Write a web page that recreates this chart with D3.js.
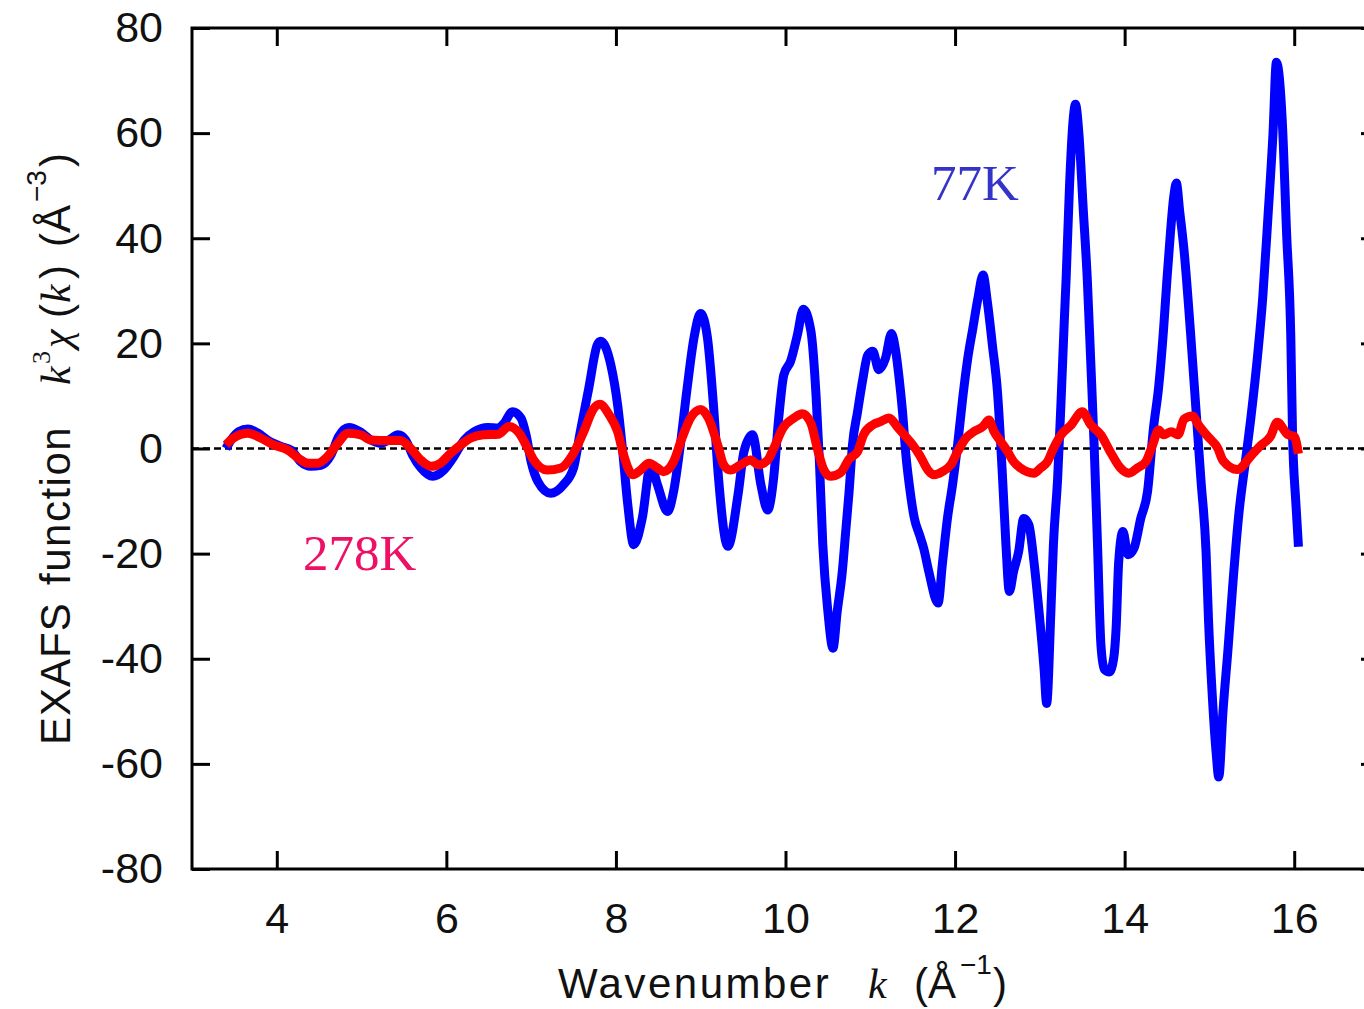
<!DOCTYPE html>
<html>
<head>
<meta charset="utf-8">
<script src="https://cdn.jsdelivr.net/npm/d3@7"></script>
<style>
  html, body { margin: 0; padding: 0; background: #fff; overflow: hidden; }
  svg { display: block; }
</style>
</head>
<body>
<svg id="chart" width="1364" height="1009"></svg>
<script>
// EXAFS k^3 chi(k) spectra at two temperatures

const xTicks = [4, 6, 8, 10, 12, 14, 16];
const yTicks = [-80, -60, -40, -20, 0, 20, 40, 60, 80];

// 77 K spectrum
const k77 = [
  3.40, 3.46, 3.55, 3.66, 3.78, 3.89, 4.05, 4.17, 4.28, 4.40, 4.52, 4.64, 4.73, 4.85, 4.99,
  5.11, 5.23, 5.32, 5.43, 5.52, 5.60, 5.70, 5.84, 5.97, 6.09, 6.21, 6.33, 6.49, 6.61, 6.68,
  6.78, 6.88, 6.94, 7.00, 7.08, 7.23, 7.38, 7.50, 7.58, 7.68, 7.78, 7.82, 7.94, 8.02, 8.08,
  8.14, 8.21, 8.31, 8.41, 8.49, 8.61, 8.68, 8.76, 8.84, 8.92, 9.00, 9.08, 9.15, 9.21, 9.32,
  9.44, 9.51, 9.61, 9.71, 9.79, 9.86, 9.92, 9.98, 10.06, 10.14, 10.21, 10.30, 10.36, 10.40, 10.44,
  10.50, 10.56, 10.61, 10.67, 10.71, 10.75, 10.79, 10.85, 10.91, 10.97, 11.03, 11.10, 11.18, 11.25, 11.30,
  11.34, 11.38, 11.42, 11.46, 11.52, 11.58, 11.63, 11.69, 11.80, 11.85, 11.91, 11.97, 12.03, 12.09, 12.15,
  12.21, 12.27, 12.33, 12.38, 12.44, 12.50, 12.56, 12.60, 12.64, 12.69, 12.75, 12.81, 12.87, 12.93, 12.99,
  13.05, 13.08, 13.13, 13.16, 13.21, 13.25, 13.29, 13.31, 13.35, 13.39, 13.42, 13.46, 13.51, 13.56, 13.60,
  13.64, 13.68, 13.72, 13.76, 13.82, 13.87, 13.90, 13.93, 13.98, 14.04, 14.11, 14.19, 14.27, 14.34, 14.40,
  14.46, 14.50, 14.54, 14.58, 14.61, 14.65, 14.70, 14.78, 14.84, 14.90, 14.96, 14.99, 15.03, 15.08, 15.11,
  15.16, 15.22, 15.28, 15.35, 15.42, 15.49, 15.57, 15.63, 15.69, 15.75, 15.79, 15.86, 15.91, 15.96, 15.98,
  16.02, 16.05
];
const chi77 = [
  0.0, 1.6, 3.2, 3.7, 2.9, 1.6, 0.4, -0.3, -2.5, -3.4, -3.2, -1.2, 2.3, 4.0, 3.1,
  1.6, 1.0, 1.6, 2.6, 1.6, -1.2, -3.7, -5.3, -4.1, -1.5, 1.6, 3.2, 4.0, 3.9, 4.8,
  7.0, 5.8, 2.6, -2.5, -6.3, -8.5, -6.9, -3.7, 3.2, 11.5, 19.7, 20.4, 15.9, 8.3, -0.6,
  -10.7, -18.3, -13.3, -3.1, -6.9, -12.0, -8.2, 0.7, 11.5, 21.0, 25.7, 21.0, 8.3, -5.6, -18.6,
  -8.8, -0.6, 2.6, -6.9, -11.7, -5.6, 5.8, 14.0, 16.6, 21.6, 26.5, 22.3, 10.2, -2.5, -18.3,
  -31.0, -38.0, -31.0, -23.4, -15.8, -8.2, 0.7, 7.0, 13.0, 17.8, 18.5, 15.0, 17.2, 21.9, 18.5,
  13.4, 7.0, -1.2, -6.9, -13.3, -16.4, -19.0, -23.4, -29.4, -22.0, -13.3, -6.9, 0.7, 9.6, 17.2,
  22.9, 28.6, 33.0, 28.0, 19.7, 10.8, -5.6, -18.3, -27.2, -23.4, -19.6, -13.3, -14.5, -21.5, -31.0,
  -42.0, -48.5, -31.0, -18.3, -5.6, 9.0, 25.0, 32.4, 50.0, 62.0, 65.5, 60.0, 46.0, 32.0, 16.6,
  0.7, -18.3, -37.3, -42.0, -42.5, -40.0, -34.0, -21.5, -15.8, -20.2, -19.0, -13.3, -8.2, 3.9, 11.5,
  22.9, 32.4, 41.0, 48.0, 50.5, 45.0, 37.8, 21.4, 7.7, -6.0, -19.6, -33.0, -46.0, -58.0, -62.5,
  -50.0, -38.0, -25.0, -12.0, -3.0, 6.0, 18.0, 29.0, 44.0, 60.0, 73.5, 62.0, 41.0, 21.0, 3.0,
  -10.5, -18.7
];

// 278 K spectrum
const k278 = [
  3.40, 3.49, 3.66, 3.81, 3.96, 4.13, 4.25, 4.37, 4.48, 4.60, 4.72, 4.84, 4.99, 5.11, 5.31,
  5.46, 5.58, 5.70, 5.82, 5.93, 6.05, 6.17, 6.29, 6.44, 6.61, 6.74, 6.86, 6.96, 7.03, 7.19,
  7.35, 7.50, 7.62, 7.73, 7.81, 7.92, 8.02, 8.09, 8.20, 8.29, 8.39, 8.49, 8.56, 8.68, 8.78,
  8.88, 9.00, 9.09, 9.20, 9.27, 9.35, 9.47, 9.59, 9.68, 9.79, 9.86, 9.97, 10.10, 10.20, 10.30,
  10.38, 10.45, 10.53, 10.65, 10.75, 10.85, 10.92, 11.03, 11.12, 11.22, 11.32, 11.40, 11.50, 11.58, 11.68,
  11.75, 11.85, 11.95, 12.03, 12.13, 12.22, 12.33, 12.40, 12.46, 12.54, 12.62, 12.69, 12.77, 12.93, 13.01,
  13.09, 13.16, 13.25, 13.37, 13.50, 13.60, 13.72, 13.83, 13.95, 14.05, 14.15, 14.25, 14.33, 14.40, 14.46,
  14.55, 14.63, 14.70, 14.80, 14.87, 14.98, 15.10, 15.16, 15.33, 15.49, 15.60, 15.72, 15.80, 15.92, 16.00,
  16.05
];
const chi278 = [
  0.7, 2.0, 2.9, 2.0, 0.7, -0.3, -1.8, -2.8, -2.8, -1.5, 1.0, 2.9, 2.6, 1.6, 1.5,
  1.5, 0.0, -2.2, -3.4, -2.8, -0.9, 0.7, 2.0, 2.6, 2.7, 4.2, 2.9, 0.0, -2.2, -4.1,
  -3.7, -0.9, 3.2, 7.4, 8.4, 6.4, 3.2, -1.2, -5.0, -4.1, -2.8, -3.7, -4.4, -2.5, 2.0,
  5.8, 7.4, 5.8, 0.7, -3.1, -4.1, -3.1, -2.2, -3.1, -2.2, 0.0, 3.9, 5.8, 6.6, 4.8,
  -0.3, -4.0, -5.3, -4.6, -2.0, -0.6, 2.6, 4.5, 5.1, 5.8, 4.1, 2.6, 0.7, -1.2, -4.1,
  -5.0, -4.4, -3.1, -0.6, 2.0, 3.2, 4.2, 5.4, 3.2, 1.3, -0.6, -2.5, -3.7, -4.7, -3.7,
  -2.5, 0.0, 2.6, 4.5, 7.0, 4.5, 2.6, -0.6, -3.7, -4.7, -3.7, -2.5, 0.7, 3.5, 2.6,
  3.2, 2.6, 5.6, 6.2, 4.5, 2.3, 0.0, -2.3, -4.0, -1.4, 0.5, 2.3, 5.0, 2.7, 2.3,
  -1.0
];

const svg = d3.select("#chart");
const plotLeft = 192, plotTop = 28, plotBottom = 869, plotRight = 1379;

const x = d3.scaleLinear().domain([3, 17]).range([plotLeft, plotRight]);
const y = d3.scaleLinear().domain([-80, 80]).range([plotBottom, plotTop]);

const sans = "'Liberation Sans', Arial, sans-serif";
const serif = "'Liberation Serif', 'DejaVu Serif', serif";
const fmt = d => String(d);

// zero reference line
svg.append("line")
  .attr("x1", x(3)).attr("x2", x(17))
  .attr("y1", y(0)).attr("y2", y(0))
  .attr("stroke", "#000").attr("stroke-width", 2.5)
  .attr("stroke-dasharray", "7,4");

// curves
const line = d3.line()
  .x(d => x(d[0])).y(d => y(d[1]))
  .curve(d3.curveMonotoneX);

svg.append("path")
  .datum(k77.map((k, i) => [k, chi77[i]]))
  .attr("d", line)
  .attr("fill", "none").attr("stroke", "#0000ff")
  .attr("stroke-width", 9).attr("stroke-linejoin", "round");

svg.append("path")
  .datum(k278.map((k, i) => [k, chi278[i]]))
  .attr("d", line)
  .attr("fill", "none").attr("stroke", "#ff0000")
  .attr("stroke-width", 9).attr("stroke-linejoin", "round");

// axes with inward ticks
function styleAxis(g) {
  g.select(".domain").remove();
  g.selectAll(".tick line").attr("stroke", "#000").attr("stroke-width", 3);
  g.selectAll(".tick text")
    .attr("fill", "#111")
    .style("font-family", sans)
    .style("font-size", "43px");
}

svg.append("g")
  .attr("transform", `translate(${plotLeft},0)`)
  .call(d3.axisLeft(y).tickValues(yTicks).tickFormat(fmt).tickSize(-18).tickSizeOuter(0).tickPadding(29))
  .call(styleAxis);

svg.append("g")
  .attr("transform", `translate(${plotRight},0)`)
  .call(d3.axisRight(y).tickValues(yTicks).tickFormat(() => "").tickSize(-18).tickSizeOuter(0))
  .call(styleAxis);

svg.append("g")
  .attr("transform", `translate(0,${plotBottom})`)
  .call(d3.axisBottom(x).tickValues(xTicks).tickFormat(fmt).tickSize(-18).tickSizeOuter(0).tickPadding(33))
  .call(styleAxis);

svg.append("g")
  .attr("transform", `translate(0,${plotTop})`)
  .call(d3.axisTop(x).tickValues(xTicks).tickFormat(() => "").tickSize(-18).tickSizeOuter(0))
  .call(styleAxis);

// frame
svg.append("rect")
  .attr("x", plotLeft).attr("y", plotTop)
  .attr("width", plotRight - plotLeft).attr("height", plotBottom - plotTop)
  .attr("fill", "none").attr("stroke", "#000").attr("stroke-width", 3);

// x axis title
const xt = svg.append("text")
  .attr("y", 998)
  .attr("fill", "#111")
  .style("font-family", sans)
  .style("font-size", "42px");
xt.append("tspan").attr("x", 558).style("letter-spacing", "2.5px").text("Wavenumber");
xt.append("tspan").attr("x", 868).style("font-family", serif).style("font-style", "italic").text("k");
xt.append("tspan").attr("x", 914).text("(Å");
xt.append("tspan").attr("x", 960).attr("y", 974).style("font-size", "28px").text("−1");
xt.append("tspan").attr("x", 993).attr("y", 998).text(")");

// y axis title (rotated)
const yt = svg.append("g")
  .attr("transform", "translate(70,745) rotate(-90)")
  .append("text")
  .attr("fill", "#111")
  .style("font-family", sans)
  .style("font-size", "42px");
yt.append("tspan").attr("x", 0).attr("y", 0).style("letter-spacing", "1px").text("EXAFS");
yt.append("tspan").attr("x", 160).attr("y", 0).style("letter-spacing", "1.5px").text("function");
yt.append("tspan").attr("x", 360).attr("y", 0).style("font-family", serif).style("font-style", "italic").text("k");
yt.append("tspan").attr("x", 381).attr("y", -20).style("font-family", serif).style("font-size", "26px").text("3");
yt.append("tspan").attr("x", 397).attr("y", 0).style("font-family", serif).style("font-style", "italic").text("χ");
yt.append("tspan").attr("x", 427).attr("y", 0).text("(");
yt.append("tspan").attr("x", 442).attr("y", 0).style("font-family", serif).style("font-style", "italic").text("k");
yt.append("tspan").attr("x", 466).attr("y", 0).text(")");
yt.append("tspan").attr("x", 498).attr("y", 0).text("(Å");
yt.append("tspan").attr("x", 543).attr("y", -24).style("font-size", "28px").text("−3");
yt.append("tspan").attr("x", 578).attr("y", 0).text(")");

// series labels
svg.append("text")
  .attr("x", 931).attr("y", 200)
  .attr("fill", "#3434c8")
  .style("font-family", serif).style("font-size", "51px")
  .text("77K");

svg.append("text")
  .attr("x", 303).attr("y", 570)
  .attr("fill", "#ee1064")
  .style("font-family", serif).style("font-size", "51px")
  .text("278K");
</script>
</body>
</html>
